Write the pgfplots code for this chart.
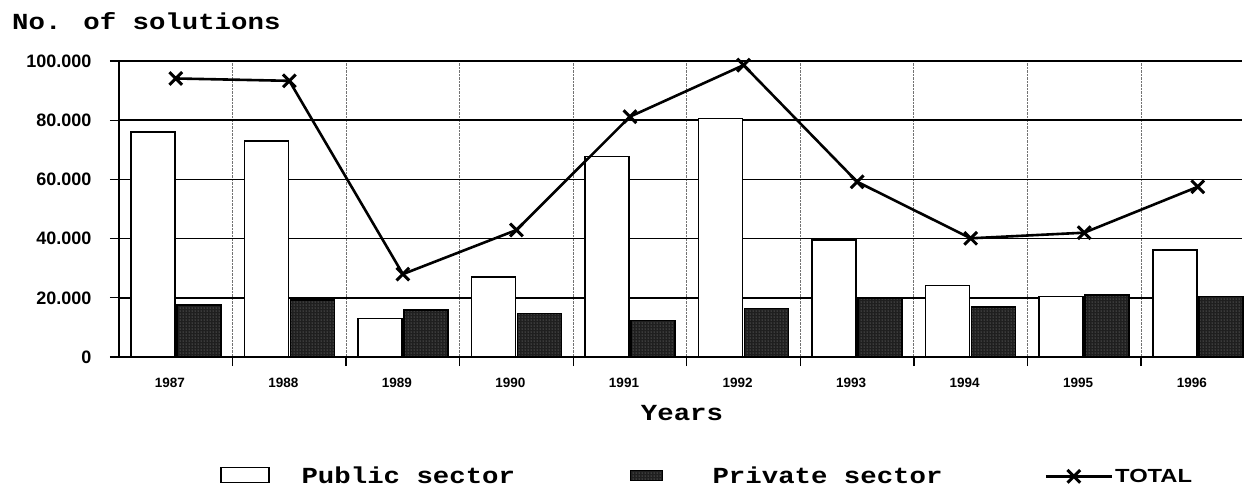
\documentclass[border=0pt]{standalone}
\usepackage{pgfplots}
\pgfplotsset{compat=1.18}
\usepackage{pgfplotstable}
\usepackage{graphicx}
\usepackage{fontspec}
\setmainfont{Liberation Sans}
\newfontfamily\monob{Liberation Mono}
\newfontfamily\sansb{Liberation Sans}
\usetikzlibrary{patterns}
\newcommand{\mtext}[1]{\scalebox{1.19}[1]{\monob\bfseries\fontsize{23}{26}\selectfont #1}}

\pgfplotstableread{
x pub priv tot
0 76000 17600 94100
1 73000 19300 93300
2 13000 15900 28000
3 27000 14700 42900
4 67700 12300 81200
5 80600 16400 98600
6 39500 19800 59200
7 24100 16800 40100
8 20400 21000 42000
9 36100 20400 57500
}\datatable

\begin{document}
\begin{tikzpicture}
\useasboundingbox (-119pt,-131pt) rectangle (1125pt,357pt);
\begin{axis}[
  at={(0pt,0pt)}, anchor=south west,
  scale only axis, width=1123pt, height=296pt,
  xmin=-0.5, xmax=9.39, ymin=0, ymax=100000,
  clip=false,
  axis x line*=bottom, axis y line*=left,
  axis line style={-, line width=1.6pt},
  xtick={0.5,1.5,...,8.5}, xticklabels={},
  xmajorgrids, x grid style={densely dotted, black!55, line width=1pt},
  extra x ticks={0,1,...,9},
  extra x tick labels={1987,1988,1989,1990,1991,1992,1993,1994,1995,1996},
  extra x tick style={grid=none, major tick length=0pt},
  scaled y ticks=false,
  ytick={0,20000,40000,60000,80000,100000},
  yticklabels={0,20.000,40.000,60.000,80.000,100.000},
  ymajorgrids, y grid style={black, line width=1.6pt},
  tick align=outside, major tick length=9pt,
  tick style={black, line width=1.3pt},
  xtick pos=bottom, ytick pos=left,
  yticklabel style={font=\sansb\bfseries\fontsize{18}{18}\selectfont, xshift=-15pt},
  xticklabel style={font=\sansb\bfseries\fontsize{13.5}{13.5}\selectfont, yshift=-18pt, xshift=-6pt},
  legend columns=3,
  legend style={at={(axis description cs:0.0899,-0.402)}, anchor=west, draw=none,
    fill=none, inner sep=0pt, outer sep=0pt, nodes={inner sep=0pt, anchor=west},
    /tikz/every even column/.append style={column sep=0pt}},
  legend cell align=left,
]
\addplot[ybar, bar width=44pt, bar shift=-23pt, fill=white, draw=black, line width=1.6pt,
  legend image code/.code={\draw[fill=white, line width=1.6pt] (0pt,-6pt) rectangle (48pt,9pt);}]
  table[x=x, y=pub] {\datatable};
\addlegendentry{\makebox[360pt][l]{\hspace*{32pt}\mtext{Public sector}}}
\addplot[ybar, bar width=44pt, bar shift=23pt, fill=black!88, draw=black, line width=1.6pt,
  postaction={pattern=dots, pattern color=black!40},
  legend image code/.code={\draw[fill=black!88, line width=1pt] (0pt,-4pt) rectangle (32pt,6pt);}]
  table[x=x, y=priv] {\datatable};
\addlegendentry{\makebox[382pt][l]{\hspace*{50pt}\mtext{Private sector}}}
\addplot[black, line width=2.6pt, mark=x, mark size=9pt, mark options={line width=3pt},
  legend image code/.code={\draw[mark repeat=2, mark phase=2, line width=2.6pt, mark options={line width=3pt}] plot coordinates {(0pt,0pt) (28pt,0pt) (66pt,0pt)};}]
  table[x=x, y=tot] {\datatable};
\addlegendentry{\hspace*{2pt}\scalebox{1.25}[1]{\sansb\bfseries\fontsize{19}{20}\selectfont TOTAL}}
\end{axis}
\node[anchor=base west, inner sep=0pt] at (-107pt,327pt) {\mtext{No. of solutions}};
\node[anchor=base, inner sep=0pt] at (563pt,-63pt) {\mtext{Years}};
\end{tikzpicture}
\end{document}
